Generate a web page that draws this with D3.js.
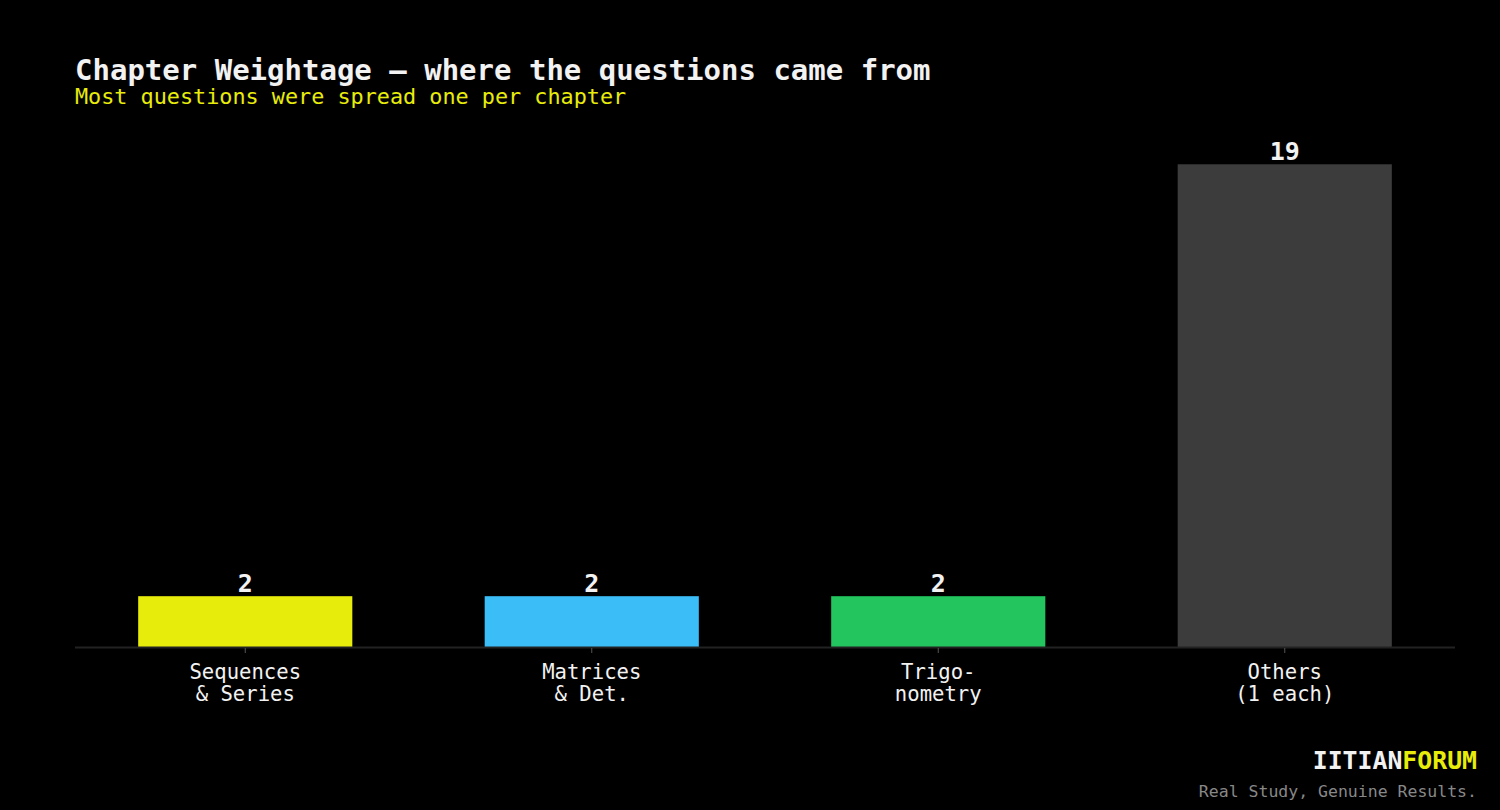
<!DOCTYPE html>
<html>
<head>
<meta charset="utf-8">
<script src="https://cdn.jsdelivr.net/npm/d3@7"></script>
<style>
  html, body { margin: 0; padding: 0; background: #000; }
  svg { display: block; font-family: "DejaVu Sans Mono", monospace; }
</style>
</head>
<body>
<svg id="chart"></svg>
<script>
var chapters = ["Sequences\n& Series", "Matrices\n& Det.", "Trigo-\nnometry", "Others\n(1 each)"];
var counts = [2, 2, 2, 19];
var barColors = ["#e8ec0b", "#3bbdf8", "#22c55e", "#3c3c3c"];

var width = 1500
  , height = 810
  , margin = {top: 116, right: 45, bottom: 163, left: 75};

var svg = d3.select("#chart")
    .attr("width", width)
    .attr("height", height);

svg.append("rect")
    .attr("width", width)
    .attr("height", height)
    .attr("fill", "#000");

var x = d3.scaleBand()
    .domain(chapters)
    .range([72, 1458])
    .paddingInner(0.382)
    .paddingOuter(0.191);

var y = d3.scaleLinear()
    .domain([0, 20.9])
    .range([height - margin.bottom, margin.top]);

// title block
svg.append("text")
    .attr("x", 75)
    .attr("y", 80)
    .attr("fill", "#f2f2f2")
    .style("font-size", "29px")
    .style("font-weight", "bold")
    .text("Chapter Weightage \u2014 where the questions came from");

svg.append("text")
    .attr("x", 75)
    .attr("y", 104)
    .attr("fill", "#e8ec0b")
    .style("font-size", "21.8px")
    .text("Most questions were spread one per chapter");

// bars
svg.selectAll("rect.bar")
    .data(counts)
    .enter().append("rect")
    .attr("class", "bar")
    .attr("x", function(d, i) { return x(chapters[i]); })
    .attr("y", function(d) { return y(d); })
    .attr("width", x.bandwidth())
    .attr("height", function(d) { return y(0) - y(d); })
    .attr("fill", function(d, i) { return barColors[i]; });

svg.selectAll("text.value")
    .data(counts)
    .enter().append("text")
    .attr("class", "value")
    .attr("x", function(d, i) { return x(chapters[i]) + x.bandwidth() / 2; })
    .attr("y", function(d) { return y(d) - 4; })
    .attr("text-anchor", "middle")
    .attr("fill", "#f2f2f2")
    .style("font-size", "25px")
    .style("font-weight", "bold")
    .text(function(d) { return d; });

// x axis
var axis = svg.append("g")
    .attr("transform", "translate(0," + y(0) + ")")
    .call(d3.axisBottom(x).tickSize(6).tickFormat(""))
    .attr("font-family", "DejaVu Sans Mono, monospace");

axis.select(".domain")
    .attr("d", "M75,0.5H1455")
    .attr("stroke", "#222")
    .attr("stroke-width", 2);
axis.selectAll(".tick line")
    .attr("stroke", "#555")
    .attr("y1", 1);

axis.selectAll(".tick")
    .append("text")
    .attr("fill", "#f2f2f2")
    .attr("text-anchor", "middle")
    .style("font-size", "20.6px")
    .each(function(d) {
      var t = d3.select(this);
      d.split("\n").forEach(function(line, i) {
        t.append("tspan")
          .attr("x", 0)
          .attr("y", 32 + i * 22)
          .text(line);
      });
    });

// brand
var brand = svg.append("text")
    .attr("x", 1477)
    .attr("y", 769)
    .attr("text-anchor", "end")
    .style("font-size", "24.8px")
    .style("font-weight", "bold");
brand.append("tspan").attr("fill", "#f2f2f2").text("IITIAN");
brand.append("tspan").attr("fill", "#e8ec0b").text("FORUM");

svg.append("text")
    .attr("x", 1477)
    .attr("y", 797)
    .attr("text-anchor", "end")
    .attr("fill", "#888")
    .style("font-size", "16.5px")
    .text("Real Study, Genuine Results.");
</script>
</body>
</html>
